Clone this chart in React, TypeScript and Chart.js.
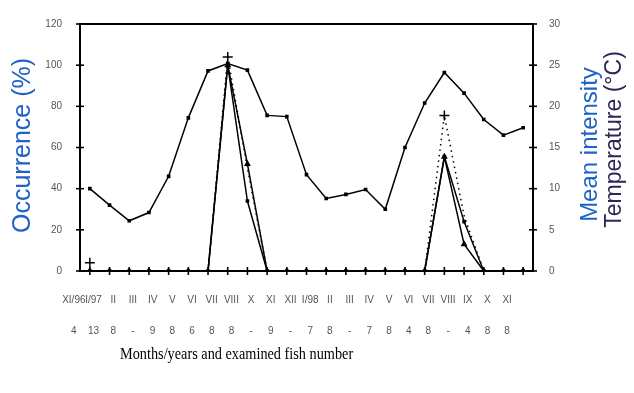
import { useEffect, useRef } from "react";
import { Chart, registerables } from "chart.js";

Chart.register(...registerables);

// ---- data ----
const months = ["XI/96", "I/97", "II", "III", "IV", "V", "VI", "VII", "VIII", "X", "XI", "XII", "I/98", "II", "III", "IV", "V", "VI", "VII", "VIII", "IX", "X", "XI"];
const fishNumbers = ["4", "13", "8", "-", "9", "8", "6", "8", "8", "-", "9", "-", "7", "8", "-", "7", "8", "4", "8", "-", "4", "8", "8"];
const occurrence = [0, 0, 0, 0, 0, 0, 0, 100, 52, 0, 0, 0, 0, 0, 0, 0, 0, 0, 55.5, 13, 0, 0, 0];
const meanIntensity = [0, 0, 0, 0, 0, 0, 0, 25, 8.5, 0, 0, 0, 0, 0, 0, 0, 0, 0, 13.9, 6, 0, 0, 0];
const intensityUpper = [1, null, null, null, null, null, 0, 26, 12.5, 0, null, null, null, null, null, null, null, 0, 18.9, 6.7, 0, null, null];
const temperature = [10, 8, 6.1, 7.1, 11.5, 18.6, 24.3, 25.2, 24.4, 18.9, 18.75, 11.7, 8.8, 9.3, 9.9, 7.5, 15, 20.4, 24.1, 21.6, 18.4, 16.5, 17.4];
const leftAxis = { min: 0, max: 120, step: 20 };
const rightAxis = { min: 0, max: 30, step: 5 };
const leftTitle = "Occurrence (%)";
const rightTitle1 = "Mean intensity";
const rightTitle2 = "Temperature (°C)";
const xTitle = "Months/years and examined fish number";

export default function App() {
  const ref = useRef<HTMLCanvasElement>(null);

  useEffect(() => {
    if (!ref.current) return;
    const framePlugin = {
      id: "frame",
      afterDraw(chart: any) {
        const { ctx, chartArea: ca, scales } = chart;
        ctx.save();
        ctx.strokeStyle = "#000";
        ctx.lineWidth = 2;
        ctx.beginPath();
        ctx.moveTo(ca.left - 1, ca.top);
        ctx.lineTo(ca.right + 1, ca.top);
        ctx.stroke();
        const tl = 4;
        ctx.lineWidth = 1.6;
        const seg = (x1: number, y1: number, x2: number, y2: number) => {
          ctx.beginPath();
          ctx.moveTo(x1, y1);
          ctx.lineTo(x2, y2);
          ctx.stroke();
        };
        for (const t of scales.y.ticks) {
          const p = scales.y.getPixelForValue(t.value);
          seg(ca.left - tl, p, ca.left + tl, p);
        }
        for (const t of scales.y1.ticks) {
          const p = scales.y1.getPixelForValue(t.value);
          seg(ca.right - tl, p, ca.right + tl, p);
        }
        scales.x.ticks.forEach((_t: any, i: number) => {
          const p = scales.x.getPixelForTick(i);
          seg(p, ca.bottom - tl, p, ca.bottom + tl);
        });
        const mid = (ca.top + ca.bottom) / 2;
        const rot = (text: string, x: number, y: number, size: number, color: string) => {
          ctx.save();
          ctx.translate(x, y);
          ctx.rotate(-Math.PI / 2);
          ctx.font = `${size}px "Liberation Sans", Arial, sans-serif`;
          ctx.fillStyle = color;
          ctx.textAlign = "center";
          ctx.textBaseline = "middle";
          ctx.fillText(text, 0, 0);
          ctx.restore();
        };
        rot(leftTitle, ca.left - 57, mid - 2, 25, "#1f63c6");
        rot(rightTitle1, ca.right + 57, mid - 3, 24, "#1f63c6");
        rot(rightTitle2, ca.right + 82, mid - 8, 23, "#2d2657");
        ctx.restore();
      },
    };

    const tickFont = { family: '"Liberation Sans", Arial, sans-serif', size: 10 };
    const chart = new Chart(ref.current, {
      type: "line",
      data: {
        labels: months,
        datasets: [
          {
            label: "Temperature (°C)",
            data: temperature,
            yAxisID: "y1",
            borderColor: "#000",
            backgroundColor: "#000",
            borderWidth: 1.5,
            pointStyle: "rect",
            pointRadius: 1.5,
            tension: 0,
          },
          {
            label: "Occurrence (%)",
            data: occurrence,
            yAxisID: "y",
            borderColor: "#000",
            backgroundColor: "#000",
            borderWidth: 1.5,
            pointStyle: "triangle",
            pointRadius: 2.5,
            tension: 0,
          },
          {
            label: "Mean intensity",
            data: meanIntensity,
            yAxisID: "y1",
            borderColor: "#000",
            backgroundColor: "#000",
            borderWidth: 1.5,
            pointStyle: "rect",
            pointRadius: 1.5,
            tension: 0,
          },
          {
            label: "Mean intensity + SD",
            data: intensityUpper,
            yAxisID: "y1",
            borderColor: "#000",
            backgroundColor: "#000",
            borderWidth: 1.5,
            borderDash: [1.5, 4],
            spanGaps: false,
            pointStyle: "cross",
            pointBorderWidth: 1.5,
            pointRadius: (c: any) => {
              const d = c.dataset.data as (number | null)[];
              const i = c.dataIndex;
              const v = d[i];
              if (v === null || v === 0) return 0;
              const prev = i > 0 ? d[i - 1] ?? 0 : 0;
              const next = i < d.length - 1 ? d[i + 1] ?? 0 : 0;
              return v > prev && v > next ? 5 : 0;
            },
            tension: 0,
          },
        ],
      },
      options: {
        responsive: false,
        animation: false,
        layout: { padding: { top: 12, left: 0, right: 0, bottom: 0 } },
        plugins: { legend: { display: false }, tooltip: { enabled: false } },
        scales: {
          x: {
            offset: true,
            grid: { display: false },
            border: { display: true, color: "#000", width: 2 },
            ticks: {
              autoSkip: false,
              maxRotation: 0,
              minRotation: 0,
              padding: 5.5,
              labelOffset: -16,
              color: "#555",
              font: { ...tickFont, lineHeight: 3.1 },
              callback: (_v: any, i: number) => [months[i], fishNumbers[i]],
            },
            afterFit: (s: any) => {
              s.height = 82;
            },
          },
          y: {
            position: "left",
            min: leftAxis.min,
            max: leftAxis.max,
            grid: { display: false },
            border: { display: true, color: "#000", width: 2 },
            ticks: { stepSize: leftAxis.step, padding: 10, color: "#555", font: tickFont },
            afterFit: (s: any) => {
              s.width = 72;
            },
          },
          y1: {
            position: "right",
            min: rightAxis.min,
            max: rightAxis.max,
            grid: { display: false },
            border: { display: true, color: "#000", width: 2 },
            ticks: { stepSize: rightAxis.step, padding: 8, color: "#555", font: tickFont },
            afterFit: (s: any) => {
              s.width = 93;
            },
          },
        },
      },
      plugins: [framePlugin],
    } as any);
    return () => chart.destroy();
  }, []);

  return (
    <div style={{ position: "relative", width: 618, height: 377 }}>
      <canvas ref={ref} width={618} height={345} style={{ display: "block" }} />
      <div
        style={{
          position: "absolute",
          left: 112,
          top: 336,
          fontFamily: '"Liberation Serif", "Times New Roman", serif',
          fontSize: 17,
          lineHeight: "20px",
          color: "#000",
          whiteSpace: "nowrap",
          transform: "scaleX(0.84)",
          transformOrigin: "left top",
        }}
      >
        {xTitle}
      </div>
    </div>
  );
}
